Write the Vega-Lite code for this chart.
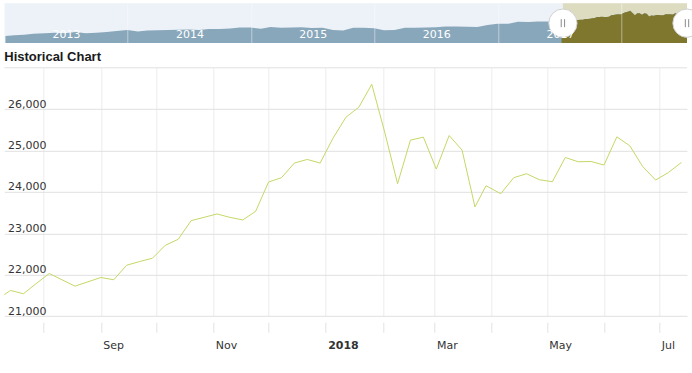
{
  "$schema": "https://vega.github.io/schema/vega-lite/v6.json",
  "padding": {"left": 3.3, "top": 3.3, "right": 0, "bottom": 0},
  "spacing": 7.5,
  "background": "white",
  "config": {"view": {"stroke": null}, "font": "DejaVu Sans"},
  "datasets": {
    "djia": [
      {"date": "2013-01-04", "close": 13435}, {"date": "2013-01-31", "close": 13861}, {"date": "2013-02-28", "close": 14054},
      {"date": "2013-03-28", "close": 14579}, {"date": "2013-04-30", "close": 14840}, {"date": "2013-05-31", "close": 15116},
      {"date": "2013-06-28", "close": 14910}, {"date": "2013-07-31", "close": 15500}, {"date": "2013-08-30", "close": 14810},
      {"date": "2013-09-30", "close": 15130}, {"date": "2013-10-31", "close": 15546}, {"date": "2013-11-29", "close": 16086},
      {"date": "2013-12-31", "close": 16577}, {"date": "2014-01-31", "close": 15699}, {"date": "2014-02-28", "close": 16322},
      {"date": "2014-03-31", "close": 16458}, {"date": "2014-04-30", "close": 16581}, {"date": "2014-05-30", "close": 16717},
      {"date": "2014-06-30", "close": 16827}, {"date": "2014-07-31", "close": 16563}, {"date": "2014-08-29", "close": 17098},
      {"date": "2014-09-30", "close": 17043}, {"date": "2014-10-31", "close": 17391}, {"date": "2014-11-28", "close": 17828},
      {"date": "2014-12-31", "close": 17823}, {"date": "2015-01-30", "close": 17165}, {"date": "2015-02-27", "close": 18133},
      {"date": "2015-03-31", "close": 17776}, {"date": "2015-04-30", "close": 17841}, {"date": "2015-05-29", "close": 18011},
      {"date": "2015-06-30", "close": 17620}, {"date": "2015-07-31", "close": 17690}, {"date": "2015-08-31", "close": 16528},
      {"date": "2015-09-30", "close": 16285}, {"date": "2015-10-30", "close": 17664}, {"date": "2015-11-30", "close": 17720},
      {"date": "2015-12-31", "close": 17425}, {"date": "2016-01-29", "close": 16466}, {"date": "2016-02-29", "close": 16517},
      {"date": "2016-03-31", "close": 17685}, {"date": "2016-04-29", "close": 17774}, {"date": "2016-05-31", "close": 17787},
      {"date": "2016-06-30", "close": 17930}, {"date": "2016-07-29", "close": 18432}, {"date": "2016-08-31", "close": 18401},
      {"date": "2016-09-30", "close": 18308}, {"date": "2016-10-31", "close": 18142}, {"date": "2016-11-30", "close": 19124},
      {"date": "2016-12-30", "close": 19763}, {"date": "2017-01-31", "close": 19864}, {"date": "2017-02-28", "close": 20812},
      {"date": "2017-03-31", "close": 20663}, {"date": "2017-04-28", "close": 20941}, {"date": "2017-05-31", "close": 21009},
      {"date": "2017-06-30", "close": 21350},
      {"date": "2017-07-07", "close": 21414}, {"date": "2017-07-14", "close": 21622}, {"date": "2017-07-21", "close": 21542},
      {"date": "2017-07-28", "close": 21790}, {"date": "2017-08-04", "close": 22031}, {"date": "2017-08-11", "close": 21878},
      {"date": "2017-08-18", "close": 21726}, {"date": "2017-08-25", "close": 21830}, {"date": "2017-09-01", "close": 21935},
      {"date": "2017-09-08", "close": 21880}, {"date": "2017-09-15", "close": 22231}, {"date": "2017-09-22", "close": 22320},
      {"date": "2017-09-29", "close": 22400}, {"date": "2017-10-06", "close": 22713}, {"date": "2017-10-13", "close": 22858},
      {"date": "2017-10-20", "close": 23308}, {"date": "2017-10-27", "close": 23388}, {"date": "2017-11-03", "close": 23470},
      {"date": "2017-11-10", "close": 23388}, {"date": "2017-11-17", "close": 23325}, {"date": "2017-11-24", "close": 23533},
      {"date": "2017-12-01", "close": 24241}, {"date": "2017-12-08", "close": 24345}, {"date": "2017-12-15", "close": 24699},
      {"date": "2017-12-22", "close": 24786}, {"date": "2017-12-29", "close": 24699}, {"date": "2018-01-05", "close": 25301},
      {"date": "2018-01-12", "close": 25807}, {"date": "2018-01-19", "close": 26048}, {"date": "2018-01-26", "close": 26602},
      {"date": "2018-02-02", "close": 25450}, {"date": "2018-02-09", "close": 24200}, {"date": "2018-02-16", "close": 25253},
      {"date": "2018-02-23", "close": 25325}, {"date": "2018-03-02", "close": 24554}, {"date": "2018-03-09", "close": 25364},
      {"date": "2018-03-16", "close": 25012}, {"date": "2018-03-23", "close": 23639}, {"date": "2018-03-29", "close": 24152},
      {"date": "2018-04-06", "close": 23959}, {"date": "2018-04-13", "close": 24345}, {"date": "2018-04-20", "close": 24441},
      {"date": "2018-04-27", "close": 24296}, {"date": "2018-05-04", "close": 24248}, {"date": "2018-05-11", "close": 24834},
      {"date": "2018-05-18", "close": 24730}, {"date": "2018-05-25", "close": 24737}, {"date": "2018-06-01", "close": 24651},
      {"date": "2018-06-08", "close": 25333}, {"date": "2018-06-15", "close": 25116}, {"date": "2018-06-22", "close": 24617},
      {"date": "2018-06-29", "close": 24289}, {"date": "2018-07-06", "close": 24472}, {"date": "2018-07-13", "close": 24713}
    ]
  },
  "vconcat": [
    {
      "width": 682.7,
      "height": 39.7,
      "view": {"fill": "#ecf2f8", "stroke": null},
      "layer": [
        {
          "data": {"values": [{"from": "2017-07-11", "to": "2018-07-13"}]},
          "mark": {"type": "rect", "color": "#dedcc0"},
          "encoding": {
            "x": {"field": "from", "type": "temporal",
                  "scale": {"type": "utc", "domain": [{"year": 2013, "month": 1, "date": 1, "utc": true}, {"year": 2018, "month": 7, "date": 13, "utc": true}]},
                  "axis": {
                    "values": [
                      {"year": 2013, "month": 1, "date": 1, "utc": true}, {"year": 2014, "month": 1, "date": 1, "utc": true},
                      {"year": 2015, "month": 1, "date": 1, "utc": true}, {"year": 2016, "month": 1, "date": 1, "utc": true},
                      {"year": 2017, "month": 1, "date": 1, "utc": true}, {"year": 2018, "month": 1, "date": 1, "utc": true}
                    ],
                    "format": "%Y",
                    "labelExpr": "utcyear(datum.value) == 2018 ? '' : datum.label",
                    "grid": true, "gridColor": "#ffffff", "gridOpacity": 0.45,
                    "ticks": false, "tickSize": 0, "domain": false,
                    "labelColor": "#ffffff", "labelFont": "DejaVu Sans", "labelFontSize": 11,
                    "labelOffset": 61.7, "labelPadding": -5, "labelBaseline": "alphabetic", "labelAlign": "center",
                    "labelFlush": false, "labelOverlap": false, "labelBound": false,
                    "title": null, "zindex": 1
                  }},
            "x2": {"field": "to"}
          }
        },
        {
          "data": {"name": "djia"},
          "mark": {"type": "area", "color": "#89a7bb", "clip": true, "opacity": 1},
          "encoding": {
            "x": {"field": "date", "type": "temporal"},
            "y": {"field": "close", "type": "quantitative", "scale": {"domain": [9750, 30500], "zero": false, "nice": false}, "axis": null}
          }
        },
        {
          "data": {"name": "djia"},
          "transform": [{"filter": "time(datum.date) >= time('2017-07-07')"}],
          "mark": {"type": "area", "color": "#7e772d", "clip": true, "opacity": 1},
          "encoding": {
            "x": {"field": "date", "type": "temporal"},
            "y": {"field": "close", "type": "quantitative"}
          }
        },
        {
          "data": {"values": [{"date": "2017-07-11"}, {"date": "2018-07-13"}]},
          "mark": {"type": "point", "shape": "circle", "size": 800, "filled": true, "fill": "#ffffff", "stroke": "#d0d0d0", "strokeWidth": 1, "opacity": 1},
          "encoding": {"x": {"field": "date", "type": "temporal"}}
        },
        {
          "data": {"values": [{"date": "2017-07-11"}, {"date": "2018-07-13"}]},
          "mark": {"type": "point", "shape": "M-0.42,-1V1M0.42,-1V1", "size": 64, "filled": false, "stroke": "#8a8a8a", "strokeWidth": 1, "opacity": 1},
          "encoding": {"x": {"field": "date", "type": "temporal"}}
        }
      ]
    },
    {
      "width": 682.7,
      "height": 248.4,
      "title": {"text": "Historical Chart", "anchor": "start", "frame": "group", "font": "Liberation Sans", "fontSize": 13, "fontWeight": "bold", "color": "#1a1a1a", "baseline": "alphabetic", "offset": -7.2},
      "layer": [
        {
          "data": {"values": [{"top": 27000}]},
          "mark": {"type": "rule", "color": "#e0e0e0", "strokeWidth": 1},
          "encoding": {"y": {"field": "top", "type": "quantitative"}}
        },
        {
          "data": {"name": "djia"},
          "transform": [{"filter": "time(datum.date) >= time('2017-07-01')"}],
          "mark": {"type": "line", "color": "#c3d865", "strokeWidth": 1, "clip": true},
          "encoding": {
            "x": {
              "field": "date", "type": "temporal",
              "scale": {"type": "utc", "domain": [{"year": 2017, "month": 7, "date": 10, "hours": 15, "utc": true}, {"year": 2018, "month": 7, "date": 16, "hours": 1, "utc": true}]},
              "axis": {
                "values": [
                  {"year": 2017, "month": 8, "date": 1, "utc": true}, {"year": 2017, "month": 9, "date": 1, "utc": true},
                  {"year": 2017, "month": 10, "date": 1, "utc": true}, {"year": 2017, "month": 11, "date": 1, "utc": true},
                  {"year": 2017, "month": 12, "date": 1, "utc": true}, {"year": 2018, "month": 1, "date": 1, "utc": true},
                  {"year": 2018, "month": 2, "date": 1, "utc": true}, {"year": 2018, "month": 3, "date": 1, "utc": true},
                  {"year": 2018, "month": 4, "date": 1, "utc": true}, {"year": 2018, "month": 5, "date": 1, "utc": true},
                  {"year": 2018, "month": 6, "date": 1, "utc": true}, {"year": 2018, "month": 7, "date": 1, "utc": true}
                ],
                "format": "%b",
                "labelExpr": "utcmonth(datum.value) % 2 == 0 ? (utcmonth(datum.value) == 0 ? utcFormat(datum.value, '%Y') : datum.label) : ''",
                "labelFontWeight": {"condition": {"test": "utcmonth(datum.value) == 0", "value": "bold"}, "value": "normal"},
                "grid": true, "gridColor": "#ececec", "gridWidth": 1,
                "ticks": true, "tickColor": "#e2e2e2", "tickSize": 10, "offset": 6,
                "domain": false,
                "labelAlign": "left", "labelOffset": 2, "labelPadding": 16.3, "labelBaseline": "alphabetic",
                "labelFont": "DejaVu Sans", "labelFontSize": 11, "labelColor": "#333333",
                "labelFlush": false, "labelOverlap": false, "labelBound": false,
                "title": null
              }
            },
            "y": {
              "field": "close", "type": "quantitative",
              "scale": {"domain": [21000, 27000], "zero": false, "nice": false},
              "axis": {
                "values": [21000, 22000, 23000, 24000, 25000, 26000],
                "format": ",d",
                "grid": true, "gridColor": "#e0e0e0",
                "ticks": false, "tickSize": 0, "domain": false,
                "labelAlign": "left", "labelPadding": -3.3, "labelBaseline": "alphabetic", "labelOffset": -2,
                "labelFont": "DejaVu Sans", "labelFontSize": 11, "labelColor": "#333333",
                "labelFlush": false, "labelOverlap": false, "labelBound": false,
                "title": null
              }
            }
          }
        }
      ]
    }
  ]
}
